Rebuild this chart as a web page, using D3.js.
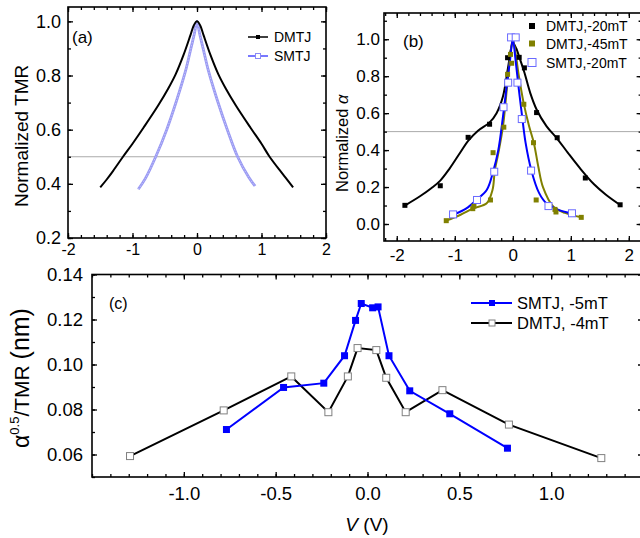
<!DOCTYPE html>
<html><head><meta charset="utf-8">
<script src="https://cdn.jsdelivr.net/npm/d3@7"></script>
<style>
body{margin:0;background:#fff}
svg text{font-family:"Liberation Sans",Arial,sans-serif}
</style></head><body>
<svg width="640" height="538"></svg>
<script>
// (a) normalized TMR vs bias
var aDmtjV = [-1.50,-1.40,-1.30,-1.15,-1.00,-0.83,-0.60,-0.45,-0.33,-0.21,-0.10,-0.05,0.00,0.05,0.10,0.21,0.33,0.45,0.60,0.83,1.00,1.12,1.30,1.40,1.49];
var aDmtjN = [0.387,0.416,0.448,0.499,0.548,0.607,0.690,0.750,0.805,0.875,0.950,0.985,1.000,0.985,0.950,0.875,0.805,0.750,0.690,0.607,0.548,0.502,0.445,0.415,0.387];
var aSmtjV = [-0.91,-0.80,-0.64,-0.47,-0.32,-0.18,-0.09,-0.04,0.00,0.04,0.09,0.18,0.32,0.47,0.63,0.80,0.90];
var aSmtjN = [0.380,0.420,0.500,0.600,0.705,0.815,0.905,0.955,1.000,0.955,0.905,0.815,0.705,0.600,0.500,0.425,0.392];

// (b) normalized alpha, points and fits
var bD20V = [-1.86,-1.25,-0.77,-0.40,-0.09,0.03,0.11,0.20,0.41,0.765,1.25,1.85];
var bD20A = [0.101,0.207,0.469,0.540,0.900,1.010,0.902,0.845,0.603,0.467,0.249,0.104];
var bD45V = [-1.147,-0.69,-0.67,-0.385,-0.34,-0.155,-0.09,-0.04,-0.02,0.19,0.357,0.403,0.727,0.744,1.18];
var bD45A = [0.018,0.083,0.097,0.130,0.386,0.524,0.810,0.918,0.870,0.648,0.440,0.130,0.079,0.065,0.036];
var bS20V = [-1.03,-0.617,-0.32,-0.16,-0.08,-0.03,0.05,0.08,0.155,0.315,0.615,1.02];
var bS20A = [0.052,0.130,0.283,0.632,0.765,1.010,1.010,0.765,0.568,0.289,0.097,0.058];

var fD20V = [-1.86,-1.60,-1.40,-1.25,-1.09,-0.90,-0.77,-0.60,-0.40,-0.28,-0.17,-0.08,0.00,0.06,0.11,0.20,0.30,0.41,0.58,0.77,0.95,1.15,1.40,1.60,1.85];
var fD20A = [0.100,0.150,0.195,0.235,0.300,0.390,0.450,0.505,0.550,0.600,0.690,0.850,0.980,0.950,0.905,0.820,0.710,0.620,0.530,0.460,0.385,0.305,0.215,0.160,0.103];
var fD45V = [-1.15,-0.90,-0.68,-0.45,-0.35,-0.31,-0.25,-0.17,-0.10,-0.04,0.00,0.05,0.10,0.19,0.28,0.362,0.44,0.52,0.70,0.90,1.18];
var fD45A = [0.018,0.050,0.085,0.112,0.184,0.290,0.383,0.527,0.740,0.920,1.000,0.920,0.810,0.650,0.530,0.440,0.310,0.200,0.094,0.060,0.036];
var fS20V = [-1.00,-0.80,-0.63,-0.45,-0.34,-0.25,-0.17,-0.10,-0.05,0.00,0.05,0.10,0.15,0.22,0.32,0.45,0.58,0.80,1.01];
var fS20A = [0.054,0.085,0.130,0.184,0.283,0.400,0.580,0.760,0.880,1.000,0.880,0.740,0.610,0.440,0.290,0.170,0.112,0.075,0.058];

// (c) alpha^0.5/TMR
var cSmtjV = [-0.768,-0.457,-0.238,-0.125,-0.065,-0.034,0.028,0.0575,0.117,0.230,0.448,0.762];
var cSmtjR = [0.0711,0.0898,0.0917,0.1039,0.1196,0.1271,0.1252,0.1256,0.1039,0.0883,0.0781,0.0628];
var cDmtjV = [-1.293,-0.783,-0.415,-0.213,-0.107,-0.054,0.048,0.102,0.208,0.408,0.770,1.273];
var cDmtjR = [0.0593,0.0796,0.0947,0.0788,0.0947,0.1073,0.1064,0.0941,0.0788,0.0886,0.0733,0.0584];

var svg = d3.select("svg");
var FONT = '"Liberation Sans",Arial,sans-serif';

function steps(a, b, s) {
    var n = Math.round((b - a) / s), out = [];
    for (var i = 0; i <= n; i++) out.push(+(a + i * s).toFixed(4));
    return out;
}

function put(axis, tx, ty, vals, size, fmt, fs, pad) {
    var g = svg.append("g")
        .attr("transform", "translate(" + tx + "," + ty + ")")
        .call(axis.tickValues(vals).tickSize(size).tickSizeOuter(0)
            .tickPadding(pad || 0).tickFormat(fmt || function () { return ""; }));
    g.select(".domain").remove();
    g.attr("font-family", FONT).attr("font-size", fs || 10);
    g.selectAll("line").attr("stroke", "#000").attr("stroke-width", 1.3);
    g.selectAll("text").attr("fill", "#000");
    return g;
}

function frame(x, y, o) {
    var x0 = x.range()[0], x1 = x.range()[1], y0 = y.range()[0], y1 = y.range()[1];
    put(d3.axisBottom(x), 0, y0, o.xMinor, -3);
    put(d3.axisBottom(x), 0, y0, o.xMajor, -5, o.xFmt, o.xFs, o.xPad);
    put(d3.axisTop(x), 0, y1, o.xMinor, -3);
    put(d3.axisTop(x), 0, y1, o.xMajor, -5);
    put(d3.axisLeft(y), x0, 0, o.yMinor, -3);
    put(d3.axisLeft(y), x0, 0, o.yMajor, -5, o.yFmt, o.yFs, o.yPad);
    put(d3.axisRight(y), x1, 0, o.yMinor, -3);
    put(d3.axisRight(y), x1, 0, o.yMajor, -5);
    svg.append("rect").attr("x", x0).attr("y", y1).attr("width", x1 - x0).attr("height", y0 - y1)
        .attr("fill", "none").attr("stroke", "#000").attr("stroke-width", 1.6);
}

function path(xs, ys, x, y, color, w, curve) {
    var line = d3.line().x(function (d) { return x(d[0]); }).y(function (d) { return y(d[1]); })
        .curve(curve || d3.curveCatmullRom.alpha(0.5));
    return svg.append("path").datum(d3.zip(xs, ys)).attr("d", line)
        .attr("fill", "none").attr("stroke", color).attr("stroke-width", w);
}

function squares(xs, ys, x, y, s, fill, stroke) {
    svg.append("g").selectAll("rect").data(d3.zip(xs, ys)).enter().append("rect")
        .attr("x", function (d) { return x(d[0]) - s / 2; })
        .attr("y", function (d) { return y(d[1]) - s / 2; })
        .attr("width", s).attr("height", s)
        .attr("fill", fill).attr("stroke", stroke || "none").attr("stroke-width", 1);
}

function label(t, x, y, fs, anchor) {
    return svg.append("text").attr("x", x).attr("y", y).attr("font-size", fs)
        .attr("text-anchor", anchor || "start").text(t);
}

var f1 = function (d) { return d.toFixed(1); };
var f0 = function (d) { return d.toFixed(0); };
var f2 = function (d) { return d.toFixed(2); };

// ---------- panel (a)
var xa = d3.scaleLinear().domain([-2, 2]).range([68, 326]);
var ya = d3.scaleLinear().domain([0.2, 1.053]).range([238, 7]);
svg.append("line").attr("x1", 68).attr("x2", 326).attr("y1", ya(0.5)).attr("y2", ya(0.5))
    .attr("stroke", "#aaa").attr("stroke-width", 1);
path(aSmtjV, aSmtjN, xa, ya, "#9a9af3", 2.8);
path(aSmtjV, aSmtjN, xa, ya, "#c8c8fb", 0.9).attr("stroke-dasharray", "1.5,1.5");
path(aDmtjV, aDmtjN, xa, ya, "#000", 2);
frame(xa, ya, {
    xMajor: steps(-2, 2, 1), xMinor: steps(-2, 2, 0.2), xFmt: f0, xFs: 16, xPad: 6,
    yMajor: steps(0.2, 1.0, 0.2), yMinor: steps(0.2, 1.0, 0.1), yFmt: f1, yFs: 18, yPad: 7
});
svg.append("text").attr("transform", "translate(28,207) rotate(-90)").attr("font-size", 19)
    .text("Normalized TMR");
label("(a)", 72, 43, 17);
svg.append("line").attr("x1", 248).attr("x2", 268).attr("y1", 37).attr("y2", 37).attr("stroke", "#000").attr("stroke-width", 1.5);
svg.append("rect").attr("x", 256).attr("y", 35).attr("width", 4).attr("height", 4).attr("fill", "#000");
label("DMTJ", 274, 42, 14);
svg.append("line").attr("x1", 248).attr("x2", 268).attr("y1", 56).attr("y2", 56).attr("stroke", "#4b4bff").attr("stroke-width", 1.5);
svg.append("rect").attr("x", 255.5).attr("y", 53.5).attr("width", 5).attr("height", 5).attr("fill", "#fff").attr("stroke", "#8a8af5");
label("SMTJ", 274, 61, 14);

// ---------- panel (b)
var xb = d3.scaleLinear().domain([-2.22, 2.22]).range([384, 641.6]);
var yb = d3.scaleLinear().domain([-0.092, 1.142]).range([241, 13]);
svg.append("line").attr("x1", 384).attr("x2", 641.6).attr("y1", yb(0.5)).attr("y2", yb(0.5))
    .attr("stroke", "#aaa").attr("stroke-width", 1);
path(fD20V, fD20A, xb, yb, "#000", 2);
path(fD45V, fD45A, xb, yb, "#808000", 2);
path(fS20V, fS20A, xb, yb, "#0000ff", 2);
squares(bD20V, bD20A, xb, yb, 5, "#000");
squares(bD45V, bD45A, xb, yb, 5, "#808000");
squares(bS20V, bS20A, xb, yb, 7, "#fff", "#6a6aff");
frame(xb, yb, {
    xMajor: steps(-2, 2, 1), xMinor: steps(-2.2, 2.2, 0.2), xFmt: f0, xFs: 17, xPad: 8,
    yMajor: steps(0, 1, 0.2), yMinor: steps(0, 1.1, 0.1), yFmt: f1, yFs: 17, yPad: 4
});
var tb = svg.append("text").attr("transform", "translate(348,192) rotate(-90)").attr("font-size", 16.5);
tb.append("tspan").text("Normalized ");
tb.append("tspan").attr("font-style", "italic").text("α");
label("(b)", 403, 47, 17);
var legB = [["DMTJ,-20mT", "#000", "none", 26], ["DMTJ,-45mT", "#808000", "none", 43.5], ["SMTJ,-20mT", "#fff", "#6a6aff", 62.5]];
legB.forEach(function (r) {
    var s = r[2] === "none" ? 6 : 8;
    svg.append("rect").attr("x", 532 - s / 2).attr("y", r[3] - s / 2).attr("width", s).attr("height", s)
        .attr("fill", r[1]).attr("stroke", r[2]);
    label(r[0], 546, r[3] + 5, 14);
});

// ---------- panel (c)
var xc = d3.scaleLinear().domain([-1.5, 1.5]).range([92, 643]);
var yc = d3.scaleLinear().domain([0.05, 0.14]).range([477, 274.5]);
path(cDmtjV, cDmtjR, xc, yc, "#000", 2, d3.curveLinear);
path(cSmtjV, cSmtjR, xc, yc, "#0000ff", 2, d3.curveLinear);
squares(cDmtjV, cDmtjR, xc, yc, 7, "#fff", "#808080");
squares(cSmtjV, cSmtjR, xc, yc, 7, "#0000ff");
frame(xc, yc, {
    xMajor: steps(-1, 1, 0.5), xMinor: steps(-1.5, 1.5, 0.1), xFmt: f1, xFs: 18.5, xPad: 10,
    yMajor: steps(0.06, 0.14, 0.02), yMinor: steps(0.05, 0.14, 0.01), yFmt: f2, yFs: 18.5, yPad: 9
});
var tc = svg.append("text").attr("transform", "translate(29,378) rotate(-90)").attr("text-anchor", "middle").attr("font-size", 21);
tc.append("tspan").attr("font-size", 23).text("α");
tc.append("tspan").attr("font-size", 13).attr("dy", -10).text("0.5");
tc.append("tspan").attr("dy", 10).text("/TMR ");
tc.append("tspan").attr("font-size", 25).text("(nm)");
var tx = svg.append("text").attr("x", 367).attr("y", 531).attr("text-anchor", "middle").attr("font-size", 19);
tx.append("tspan").attr("font-style", "italic").text("V");
tx.append("tspan").text(" (V)");
label("(c)", 109, 309, 16);
svg.append("line").attr("x1", 471).attr("x2", 512).attr("y1", 303).attr("y2", 303).attr("stroke", "#0000ff").attr("stroke-width", 2);
svg.append("rect").attr("x", 489).attr("y", 300).attr("width", 6).attr("height", 6).attr("fill", "#0000ff");
label("SMTJ, -5mT", 517, 309, 16.5);
svg.append("line").attr("x1", 471).attr("x2", 512).attr("y1", 323).attr("y2", 323).attr("stroke", "#000").attr("stroke-width", 2);
svg.append("rect").attr("x", 489).attr("y", 320).attr("width", 6).attr("height", 6).attr("fill", "#fff").attr("stroke", "#808080");
label("DMTJ, -4mT", 517, 329, 16.5);
</script></body></html>
